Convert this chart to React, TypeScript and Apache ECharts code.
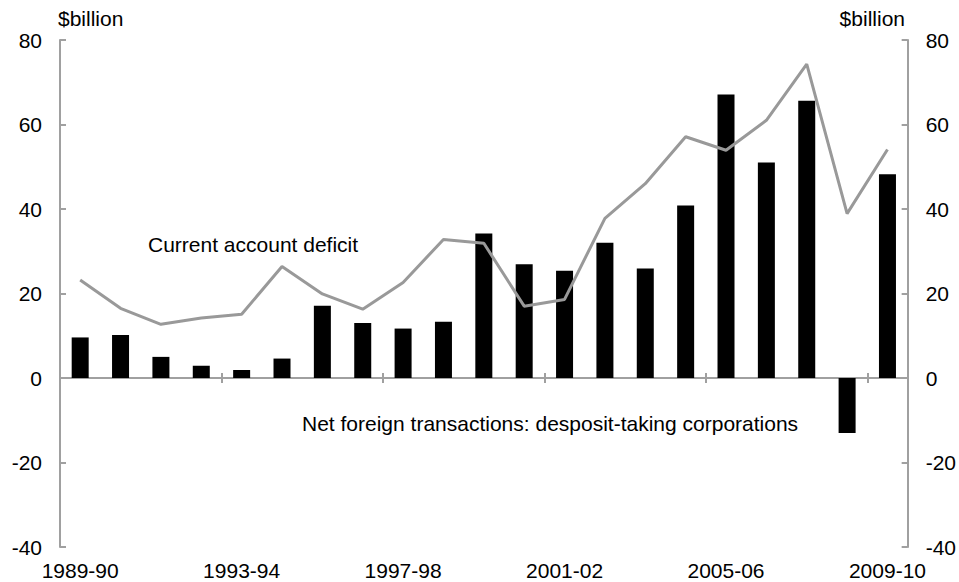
import React, { useEffect, useRef } from "react";
import * as echarts from "echarts";

const categories = [
  "1989-90", "1990-91", "1991-92", "1992-93", "1993-94", "1994-95", "1995-96",
  "1996-97", "1997-98", "1998-99", "1999-00", "2000-01", "2001-02", "2002-03",
  "2003-04", "2004-05", "2005-06", "2006-07", "2007-08", "2008-09", "2009-10",
];

const netForeignDTC = [
  9.6, 10.2, 5.0, 2.9, 1.9, 4.6, 17.1, 13.0, 11.7, 13.3, 34.2, 26.9, 25.4,
  32.0, 25.9, 40.8, 67.1, 51.0, 65.6, -13.0, 48.2,
];

const currentAccountDeficit = [
  23.2, 16.5, 12.7, 14.2, 15.1, 26.4, 19.9, 16.3, 22.6, 32.8, 31.9, 17.0,
  18.6, 37.8, 46.0, 57.1, 53.9, 61.0, 74.3, 38.9, 54.1,
];

const yTicks = { min: -40, max: 80, interval: 20 };

const FONT = "Liberation Sans, Arial, sans-serif";
const AXIS_GREY = "#a0a0a0";

export default function App() {
  const ref = useRef<HTMLDivElement>(null);

  useEffect(() => {
    if (!ref.current) return;
    const chart = echarts.init(ref.current, undefined, { renderer: "svg" });
    const text = { fontFamily: FONT, fontSize: 21, color: "#000" };
    const yAxisBase = {
      type: "value",
      min: yTicks.min,
      max: yTicks.max,
      interval: yTicks.interval,
      splitLine: { show: false },
      axisLine: { show: true, lineStyle: { color: AXIS_GREY, width: 2 } },
      axisTick: { show: true, inside: true, length: 6, lineStyle: { color: AXIS_GREY, width: 2 } },
      axisLabel: { ...text, margin: 18 },
    };
    chart.setOption({
      animation: false,
      textStyle: { fontFamily: FONT },
      grid: { left: 60, right: 51, top: 40, bottom: 35, containLabel: false },
      xAxis: [
        {
          type: "category",
          data: categories,
          boundaryGap: true,
          axisLine: { show: true, onZero: true, lineStyle: { color: AXIS_GREY, width: 2 } },
          axisTick: { show: true, interval: 3, length: 5, lineStyle: { color: AXIS_GREY, width: 2 } },
          axisLabel: { show: false },
          splitLine: { show: false },
        },
        {
          type: "category",
          data: categories,
          position: "bottom",
          boundaryGap: true,
          axisLine: { show: false, onZero: true },
          axisTick: { show: true, inside: true, interval: 3, length: 5, lineStyle: { color: AXIS_GREY, width: 2 } },
          axisLabel: { show: false },
          splitLine: { show: false },
        },
        {
          type: "category",
          data: categories,
          position: "bottom",
          boundaryGap: true,
          axisLine: { show: false, onZero: false },
          axisTick: { show: false },
          axisLabel: { ...text, interval: 3, margin: 13 },
          splitLine: { show: false },
        },
      ],
      yAxis: [
        { ...yAxisBase, position: "left" },
        { ...yAxisBase, position: "right" },
      ],
      series: [
        {
          name: "Net foreign transactions: desposit-taking corporations",
          type: "bar",
          xAxisIndex: 0,
          yAxisIndex: 0,
          data: netForeignDTC,
          barWidth: 17,
          itemStyle: { color: "#000" },
        },
        {
          name: "Current account deficit",
          type: "line",
          xAxisIndex: 0,
          yAxisIndex: 0,
          data: currentAccountDeficit,
          symbol: "none",
          lineStyle: { color: "#999999", width: 3 },
          z: 3,
        },
      ],
      graphic: [
        {
          type: "text",
          left: 58,
          top: 8,
          style: { text: "$billion", font: `21px ${FONT}`, fill: "#000" },
        },
        {
          type: "text",
          right: 54,
          top: 8,
          style: { text: "$billion", font: `21px ${FONT}`, fill: "#000" },
        },
        {
          type: "text",
          x: 148,
          y: 244,
          style: {
            text: "Current account deficit",
            font: `21px ${FONT}`,
            fill: "#000",
            verticalAlign: "middle",
          },
        },
        {
          type: "text",
          x: 302,
          y: 423,
          style: {
            text: "Net foreign transactions: desposit-taking corporations",
            font: `21px ${FONT}`,
            fill: "#000",
            verticalAlign: "middle",
          },
        },
      ],
    });
    return () => chart.dispose();
  }, []);

  return (
    <div
      ref={ref}
      style={{ position: "fixed", left: 0, top: 0, width: 959, height: 582, background: "#fff" }}
    />
  );
}
